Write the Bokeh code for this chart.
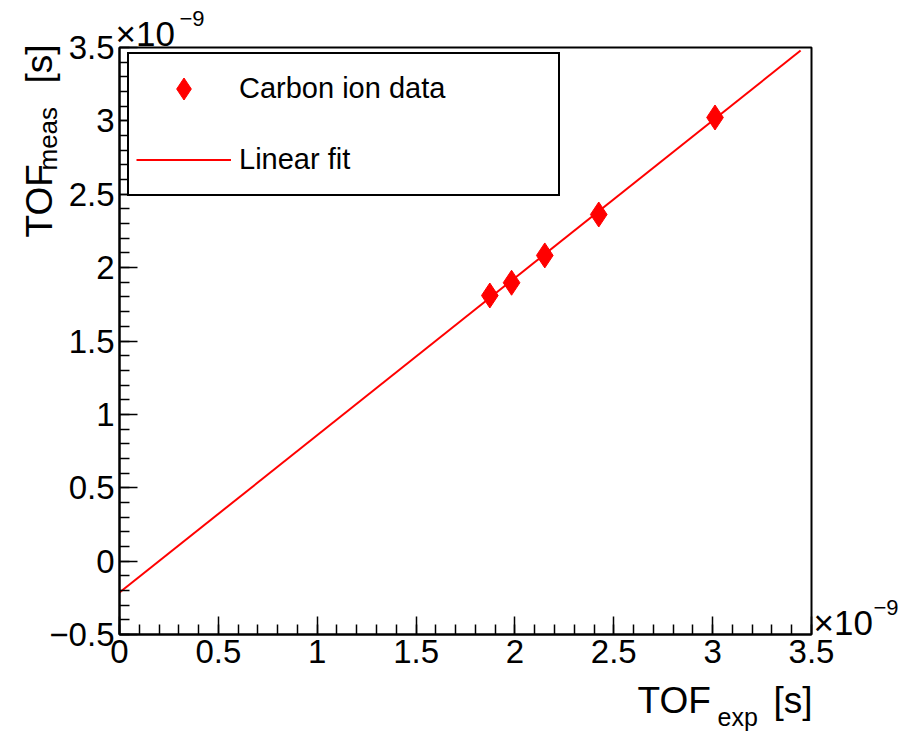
import numpy as np
from bokeh.plotting import figure
from bokeh.models import (Label, Legend, LegendItem, FixedTicker,
                          ColumnDataSource, BoxAnnotation)
from bokeh.embed import file_html
from bokeh.resources import INLINE

# ---- data (values in units of 1e-9 s) ----
tof_exp = [1.873, 1.983, 2.151, 2.424, 3.012]
tof_meas = [1.810, 1.897, 2.083, 2.362, 3.023]
fit_slope = 1.072
fit_intercept = -0.214
fit_range = [0.0, 3.445]

x_ticks = [0, 0.5, 1, 1.5, 2, 2.5, 3, 3.5]
x_tick_labels = ["0", "0.5", "1", "1.5", "2", "2.5", "3", "3.5"]
y_ticks = [-0.5, 0, 0.5, 1, 1.5, 2, 2.5, 3, 3.5]
y_tick_labels = ["\u22120.5", "0", "0.5", "1", "1.5", "2", "2.5", "3", "3.5"]
legend_labels = ["Carbon ion data", "Linear fit"]

X_LO, X_HI = 0.0, 3.5
Y_LO, Y_HI = -0.5, 3.5

FONT = "Liberation Sans"
W, H = 912, 731
# pixel box of the axes frame inside the canvas
FL, FR, FT, FB = 119, 811, 47, 634
kx = (FR - FL) / (X_HI - X_LO)
ky = (FB - FT) / (Y_HI - Y_LO)
xr = (X_LO - FL / kx, X_HI + (W - FR) / kx)
yr = (Y_LO - (H - FB) / ky, Y_HI + FT / ky)

p = figure(width=W, height=H, x_range=xr, y_range=yr,
           output_backend="svg", toolbar_location=None, min_border=0)
p.xgrid.visible = False
p.ygrid.visible = False
p.outline_line_color = None
p.background_fill_color = "white"
p.border_fill_color = "white"

x_minor = [round(v, 2) for v in np.arange(X_LO, X_HI + 1e-6, 0.1)]
y_minor = [round(v, 2) for v in np.arange(Y_LO, Y_HI + 1e-6, 0.1)]
p.xaxis.ticker = FixedTicker(ticks=x_ticks, minor_ticks=x_minor)
p.yaxis.ticker = FixedTicker(ticks=y_ticks, minor_ticks=y_minor)
p.xaxis.major_label_overrides = {t: l for t, l in zip(x_ticks, x_tick_labels)}
p.yaxis.major_label_overrides = {t: l for t, l in zip(y_ticks, y_tick_labels)}
p.xaxis.fixed_location = Y_LO
p.yaxis.fixed_location = X_LO
p.xaxis.bounds = (X_LO, X_HI)
p.yaxis.bounds = (Y_LO, Y_HI)

for ax in (p.xaxis[0], p.yaxis[0]):
    ax.major_tick_in = 18
    ax.major_tick_out = 0
    ax.minor_tick_in = 10
    ax.minor_tick_out = 0
    ax.axis_line_width = 2
    ax.axis_line_color = "black"
    ax.major_tick_line_width = 1.5
    ax.minor_tick_line_width = 1.5
    ax.major_tick_line_color = "black"
    ax.minor_tick_line_color = "black"
    ax.major_label_text_font = FONT
    ax.major_label_text_font_size = "33px"
    ax.major_label_text_color = "black"
    ax.major_label_standoff = 5

# frame box
p.add_layout(BoxAnnotation(left=X_LO, right=X_HI, bottom=Y_LO, top=Y_HI,
                           fill_alpha=0, line_color="black", line_width=2,
                           line_alpha=1))

# fit line
fx = fit_range
fy = [fit_slope * v + fit_intercept for v in fx]
line_r = p.line(x=fx, y=fy, line_color="#ff0000", line_width=2)

# data points
src = ColumnDataSource(dict(x=tof_exp, y=tof_meas))
pts_r = p.scatter(x="x", y="y", source=src, marker="diamond", size=25,
                  fill_color="#ff0000", line_color="#ff0000")

legend = Legend(items=[LegendItem(label=legend_labels[0], renderers=[pts_r]),
                       LegendItem(label=legend_labels[1], renderers=[line_r])],
                location=(127, H - 196), padding=7, spacing=16,
                glyph_width=95, glyph_height=55, label_height=55,
                label_width=312, label_standoff=8,
                label_text_font=FONT, label_text_font_size="29px",
                label_text_color="black",
                border_line_color="black", border_line_width=2,
                border_line_alpha=1,
                background_fill_color="white", background_fill_alpha=1,
                margin=0)
p.add_layout(legend)


def txt(s, x, y, size, angle=0.0, align="left"):
    # (x, y): canvas pixel of the text baseline start; Bokeh draws the
    # alphabetic baseline about a third of an em lower, so compensate
    off = 0.31 * size
    if angle:
        x = x - off
    else:
        y = y - off
    p.add_layout(Label(text=s, x=x, y=y, x_units="canvas", y_units="canvas",
                       text_font=FONT, text_font_size=f"{size}px",
                       text_color="black", angle=angle,
                       text_align=align, text_baseline="alphabetic"))


# x title
txt("TOF", 637, 711, 37)
txt("exp", 717, 724, 25)
txt("[s]", 812, 711, 37, align="right")

# y title (rotated)
txt("TOF", 50, 237, 37, angle=np.pi / 2)
txt("meas", 56, 170, 26, angle=np.pi / 2)
txt("[s]", 50, 83, 37, angle=np.pi / 2)

# exponent labels
txt("\u00d710", 115, 44, 35)
txt("\u22129", 179, 25, 22)
txt("\u00d710", 813, 633, 35)
txt("\u22129", 873, 614, 22)

open("out.html", "w").write(file_html(p, INLINE))
